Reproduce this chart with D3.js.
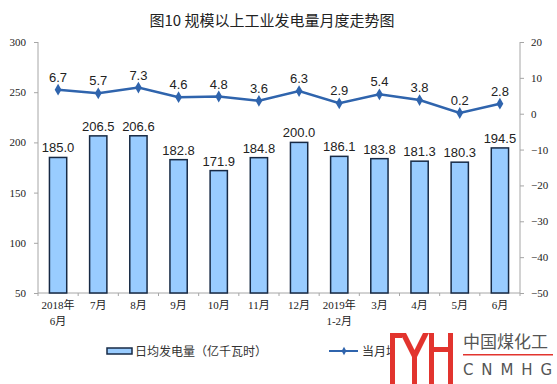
<!DOCTYPE html>
<html>
<head>
<meta charset="utf-8">
<script src="https://cdn.jsdelivr.net/npm/d3@7/dist/d3.min.js"></script>
<style>
  body { margin: 0; background: #fff; }
  svg { display: block; }
</style>
</head>
<body>
<div id="chart"></div>
<script>
// month labels (two lines where needed)
const months = [["2018年", "6月"], ["7月"], ["8月"], ["9月"], ["10月"], ["11月"], ["12月"],
                ["2019年", "1-2月"], ["3月"], ["4月"], ["5月"], ["6月"]];
// daily average generation, 亿千瓦时
const dailyOutput = [185.0, 206.5, 206.6, 182.8, 171.9, 184.8, 200.0, 186.1, 183.8, 181.3, 180.3, 194.5];
// monthly growth, %
const growth = [6.7, 5.7, 7.3, 4.6, 4.8, 3.6, 6.3, 2.9, 5.4, 3.8, 0.2, 2.8];
const leftTicks = [50, 100, 150, 200, 250, 300];
const rightTicks = [-50, -40, -30, -20, -10, 0, 10, 20];

const W = 557, H = 384;
const margin = {top: 42, right: 37, bottom: 91, left: 38};
const plotW = W - margin.left - margin.right;
const plotH = H - margin.top - margin.bottom;

const svg = d3.select("#chart").append("svg")
    .attr("width", W)
    .attr("height", H);

const serif = "'Liberation Serif', 'Times New Roman', 'Noto Sans CJK SC', serif";
const sans = "'Liberation Sans', Arial, sans-serif";
const cjk = "'Noto Sans CJK SC', sans-serif";
const axisGrey = "#a6a6a6";

// title
svg.append("text")
    .attr("x", 272).attr("y", 26)
    .attr("text-anchor", "middle")
    .style("font-family", cjk)
    .style("font-size", "15px")
    .style("fill", "#222")
    .text("图10 规模以上工业发电量月度走势图");

const g = svg.append("g").attr("transform", `translate(${margin.left},${margin.top})`);

const x = d3.scaleBand()
    .domain(d3.range(months.length))
    .range([0, plotW])
    .padding(0);

const yL = d3.scaleLinear().domain([50, 300]).range([plotH, 0]);
const yR = d3.scaleLinear().domain([-50, 20]).range([plotH, 0]);

// left axis
const leftAxis = g.append("g")
    .call(d3.axisLeft(yL).tickValues(leftTicks).tickSize(4).tickPadding(8));
leftAxis.select(".domain").attr("stroke", axisGrey).attr("d", `M0,0V${plotH}`);
leftAxis.selectAll(".tick line").attr("stroke", axisGrey);
leftAxis.selectAll(".tick text")
    .style("font-family", serif).style("font-size", "11px").style("fill", "#222");

// right axis
const rightAxis = g.append("g")
    .attr("transform", `translate(${plotW},0)`)
    .call(d3.axisRight(yR).tickValues(rightTicks).tickSize(4).tickPadding(7));
rightAxis.select(".domain").attr("stroke", axisGrey).attr("d", `M0,0V${plotH}`);
rightAxis.selectAll(".tick line").attr("stroke", axisGrey);
rightAxis.selectAll(".tick text")
    .style("font-family", serif).style("font-size", "11px").style("fill", "#222");

// bottom axis line + boundary ticks
g.append("line")
    .attr("x1", 0).attr("x2", plotW)
    .attr("y1", plotH).attr("y2", plotH)
    .attr("stroke", axisGrey);
g.selectAll(".xtick")
    .data(d3.range(months.length + 1))
    .enter().append("line")
    .attr("x1", i => i * x.step()).attr("x2", i => i * x.step())
    .attr("y1", plotH).attr("y2", plotH + 3)
    .attr("stroke", axisGrey);

const xLabels = g.selectAll(".xlab")
    .data(months)
    .enter().append("text")
    .attr("text-anchor", "middle")
    .attr("transform", (d, i) => `translate(${x(i) + x.bandwidth() / 2},${plotH + 16})`)
    .style("font-family", serif)
    .style("font-size", "11px")
    .style("fill", "#222");
xLabels.selectAll("tspan")
    .data(d => d)
    .enter().append("tspan")
    .attr("x", 0)
    .attr("dy", (d, i) => i === 0 ? 0 : 16)
    .text(d => d);

// bars
const barW = x.bandwidth() * 0.43;
g.selectAll(".bar")
    .data(dailyOutput)
    .enter().append("rect")
    .attr("class", "bar")
    .attr("x", (d, i) => x(i) + (x.bandwidth() - barW) / 2)
    .attr("y", d => yL(d))
    .attr("width", barW)
    .attr("height", d => plotH - yL(d))
    .attr("fill", "#99ccff")
    .attr("stroke", "#172a45")
    .attr("stroke-width", 1.5);

g.selectAll(".barlab")
    .data(dailyOutput)
    .enter().append("text")
    .attr("x", (d, i) => x(i) + x.bandwidth() / 2)
    .attr("y", d => yL(d) - 5)
    .attr("text-anchor", "middle")
    .style("font-family", sans)
    .style("font-size", "13px")
    .style("fill", "#222")
    .text(d => d.toFixed(1));

// growth line
const lineColor = "#2f64ad";
const line = d3.line()
    .x((d, i) => x(i) + x.bandwidth() / 2)
    .y(d => yR(d));
g.append("path")
    .datum(growth)
    .attr("d", line)
    .attr("fill", "none")
    .attr("stroke", lineColor)
    .attr("stroke-width", 2.5);

const diamond = d3.symbol().type(d3.symbolDiamond).size(40);
g.selectAll(".pt")
    .data(growth)
    .enter().append("path")
    .attr("d", diamond)
    .attr("transform", (d, i) => `translate(${x(i) + x.bandwidth() / 2},${yR(d)})`)
    .attr("fill", lineColor);

g.selectAll(".ptlab")
    .data(growth)
    .enter().append("text")
    .attr("x", (d, i) => x(i) + x.bandwidth() / 2)
    .attr("y", d => yR(d) - 8)
    .attr("text-anchor", "middle")
    .style("font-family", sans)
    .style("font-size", "13px")
    .style("fill", "#222")
    .text(d => d.toFixed(1));

// legend
const legY = 351;
svg.append("rect")
    .attr("x", 107).attr("y", legY - 3)
    .attr("width", 25).attr("height", 6)
    .attr("fill", "#99ccff").attr("stroke", "#172a45").attr("stroke-width", 1.5);
svg.append("text")
    .attr("x", 135).attr("y", legY + 4.5)
    .style("font-family", cjk).style("font-size", "12px").style("fill", "#333")
    .text("日均发电量（亿千瓦时）");

svg.append("line")
    .attr("x1", 329).attr("x2", 358)
    .attr("y1", legY).attr("y2", legY)
    .attr("stroke", lineColor).attr("stroke-width", 2);
svg.append("path")
    .attr("d", d3.symbol().type(d3.symbolDiamond).size(20))
    .attr("transform", `translate(344,${legY})`)
    .attr("fill", lineColor);
svg.append("text")
    .attr("x", 362).attr("y", legY + 4.5)
    .style("font-family", cjk).style("font-size", "12px").style("fill", "#333")
    .text("当月增速（%）");

// watermark logo
const logo = svg.append("g");
const red = "#e2342e";
logo.append("rect").attr("x", 391).attr("y", 328).attr("width", 166).attr("height", 56).attr("fill", "#fff");
logo.append("rect").attr("x", 390).attr("y", 333).attr("width", 5).attr("height", 51).attr("fill", red);
logo.append("rect").attr("x", 390).attr("y", 333).attr("width", 12).attr("height", 5).attr("fill", red);
logo.append("polygon")
    .attr("points", "400,333 406,333 414.5,350 423,333 429,333 417,357 417,384 412,384 412,357")
    .attr("fill", red);
logo.append("rect").attr("x", 429).attr("y", 333).attr("width", 5).attr("height", 51).attr("fill", red);
logo.append("rect").attr("x", 448).attr("y", 333).attr("width", 5).attr("height", 51).attr("fill", red);
logo.append("rect").attr("x", 429).attr("y", 347).attr("width", 24).attr("height", 5).attr("fill", red);
logo.append("text")
    .attr("x", 463).attr("y", 348)
    .style("font-family", cjk).style("font-size", "17px").style("fill", "#555")
    .text("中国煤化工");
logo.append("rect").attr("x", 463).attr("y", 354).attr("width", 90).attr("height", 1.5).attr("fill", red);
logo.append("text")
    .attr("x", 463).attr("y", 375)
    .attr("textLength", 89)
    .style("font-family", "'DejaVu Sans', sans-serif").style("font-size", "15px").style("fill", "#555")
    .text("CNMHG");
</script>
</body>
</html>
